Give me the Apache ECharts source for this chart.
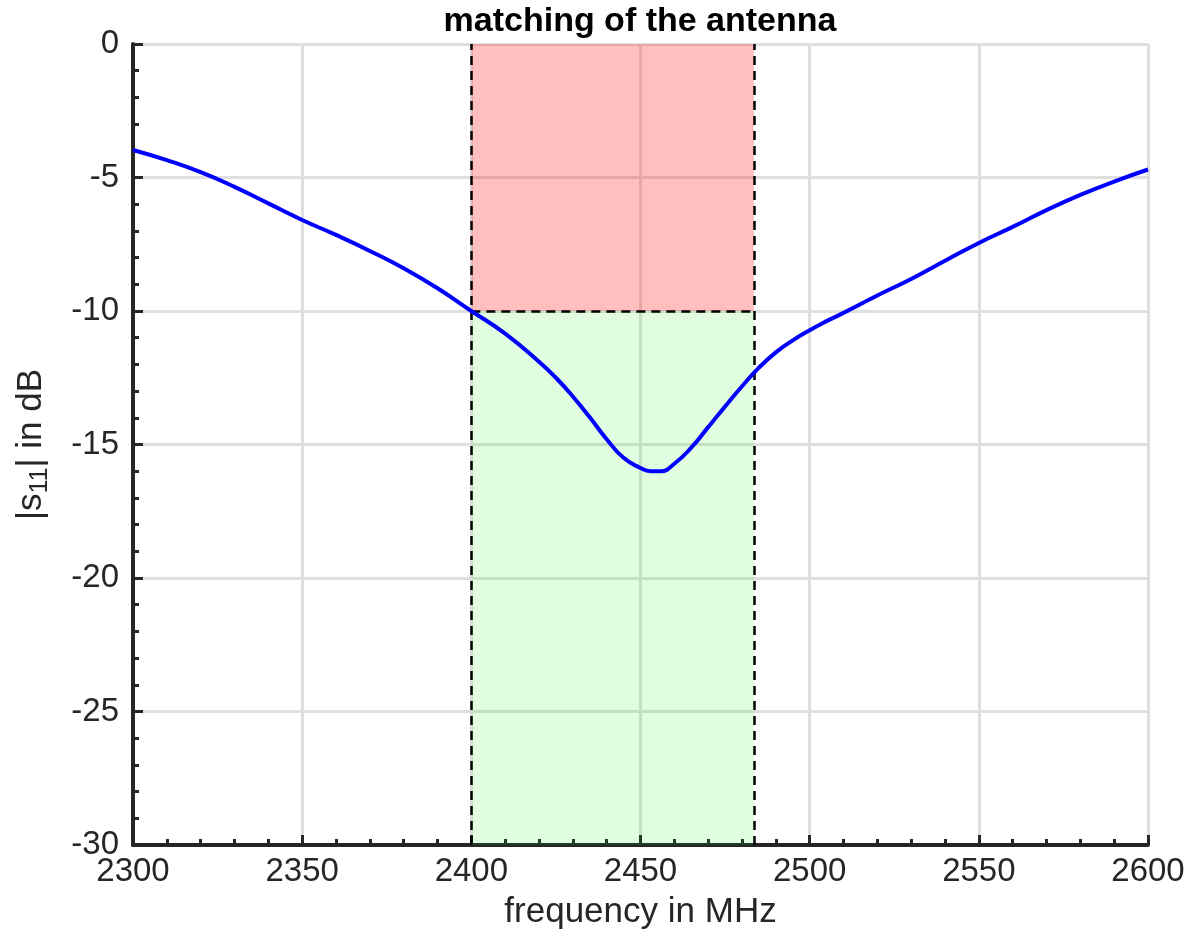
<!DOCTYPE html>
<html>
<head>
<meta charset="utf-8">
<script src="https://cdn.jsdelivr.net/npm/echarts@6/dist/echarts.min.js"></script>
<style>
  html, body { margin: 0; padding: 0; background: #fff; }
  #chart { width: 1194px; height: 942px; }
</style>
</head>
<body>
<div id="chart"></div>
<script>
// frequency in MHz
const freq = [2300, 2310, 2320, 2330, 2340, 2350, 2360, 2370, 2380, 2390,
  2400, 2410, 2420, 2425, 2430, 2435, 2440, 2445, 2450, 2453, 2456, 2460, 2465, 2470,
  2475, 2480, 2485, 2490, 2495, 2500, 2505, 2510, 2520, 2530, 2540, 2550, 2560, 2570,
  2580, 2590, 2600];
// |s11| in dB
const s11 = [-3.97, -4.35, -4.8, -5.35, -5.97, -6.59, -7.15, -7.75, -8.4, -9.15,
  -10.0, -10.85, -11.9, -12.5, -13.2, -13.98, -14.8, -15.5, -15.88, -16.0, -16.0, -15.72, -15.12, -14.35,
  -13.58, -12.82, -12.12, -11.55, -11.1, -10.72, -10.38, -10.07, -9.42, -8.8, -8.12, -7.45, -6.85, -6.22,
  -5.65, -5.15, -4.7];

// band limits (2.4 GHz ISM) and matching threshold
const bandStart = 2400;
const bandEnd = 2483.5;
const threshold = -10;
const yMin = -30;
const yMax = 0;

const chart = echarts.init(document.getElementById('chart'));

const font = 'Liberation Sans, Arial, sans-serif';
const axisColor = '#262626';

const option = {
  animation: false,
  grid: { left: 133, right: 46, top: 44, bottom: 97 },
  graphic: [{
    type: 'text',
    x: 640,
    y: 5,
    style: {
      text: 'matching of the antenna',
      textAlign: 'center',
      fontFamily: font,
      fontWeight: 'bold',
      fontSize: 34,
      fill: '#000'
    }
  }],
  xAxis: {
    type: 'value',
    min: 2300,
    max: 2600,
    interval: 50,
    name: 'frequency in MHz',
    nameLocation: 'middle',
    nameGap: 50,
    nameTextStyle: { fontFamily: font, fontSize: 35, color: axisColor },
    axisLine: { onZero: false, lineStyle: { color: axisColor, width: 4 } },
    axisTick: { inside: true, length: 10, lineStyle: { color: axisColor, width: 3 } },
    minorTick: { show: true, splitNumber: 5, length: 6, lineStyle: { color: axisColor, width: 3 } },
    axisLabel: { fontFamily: font, fontSize: 33, color: axisColor, margin: 10, formatter: v => String(v) },
    splitLine: { show: true, lineStyle: { color: '#dfdfdf', width: 3 } }
  },
  yAxis: {
    type: 'value',
    min: yMin,
    max: yMax,
    interval: 5,
    name: '|s{sub|11}| in dB',
    nameLocation: 'middle',
    nameGap: 80,
    nameTextStyle: {
      fontFamily: font, fontSize: 35, color: axisColor,
      rich: {
        sub: { fontFamily: font, fontSize: 25, color: axisColor, verticalAlign: 'bottom', padding: [18, 0, 0, 0] }
      }
    },
    axisLine: { onZero: false, lineStyle: { color: axisColor, width: 4 } },
    axisTick: { inside: true, length: 10, lineStyle: { color: axisColor, width: 3 } },
    minorTick: { show: true, splitNumber: 5, length: 6, lineStyle: { color: axisColor, width: 3 } },
    axisLabel: { fontFamily: font, fontSize: 33, color: axisColor, margin: 14 },
    splitLine: { show: true, lineStyle: { color: '#dfdfdf', width: 3 } }
  },
  series: [
    {
      type: 'line',
      data: freq.map((f, i) => [f, s11[i]]),
      showSymbol: false,
      smooth: 0.5,
      lineStyle: { color: '#0000ff', width: 4 },
      z: 5,
      markArea: {
        silent: true,
        data: [
          [{ xAxis: bandStart, yAxis: yMax, itemStyle: { color: 'rgba(255,0,0,0.25)' } }, { xAxis: bandEnd, yAxis: threshold }],
          [{ xAxis: bandStart, yAxis: threshold, itemStyle: { color: 'rgba(0,235,0,0.12)' } }, { xAxis: bandEnd, yAxis: yMin }]
        ]
      },
      markLine: {
        silent: true,
        symbol: ['none', 'none'],
        label: { show: false },
        lineStyle: { color: '#000', type: [9, 6], width: 2.5 },
        data: [
          [{ coord: [bandStart, yMin] }, { coord: [bandStart, yMax] }],
          [{ coord: [bandEnd, yMin] }, { coord: [bandEnd, yMax] }],
          [{ coord: [bandStart, threshold] }, { coord: [bandEnd, threshold] }]
        ]
      }
    }
  ]
};

chart.setOption(option);
</script>
</body>
</html>
